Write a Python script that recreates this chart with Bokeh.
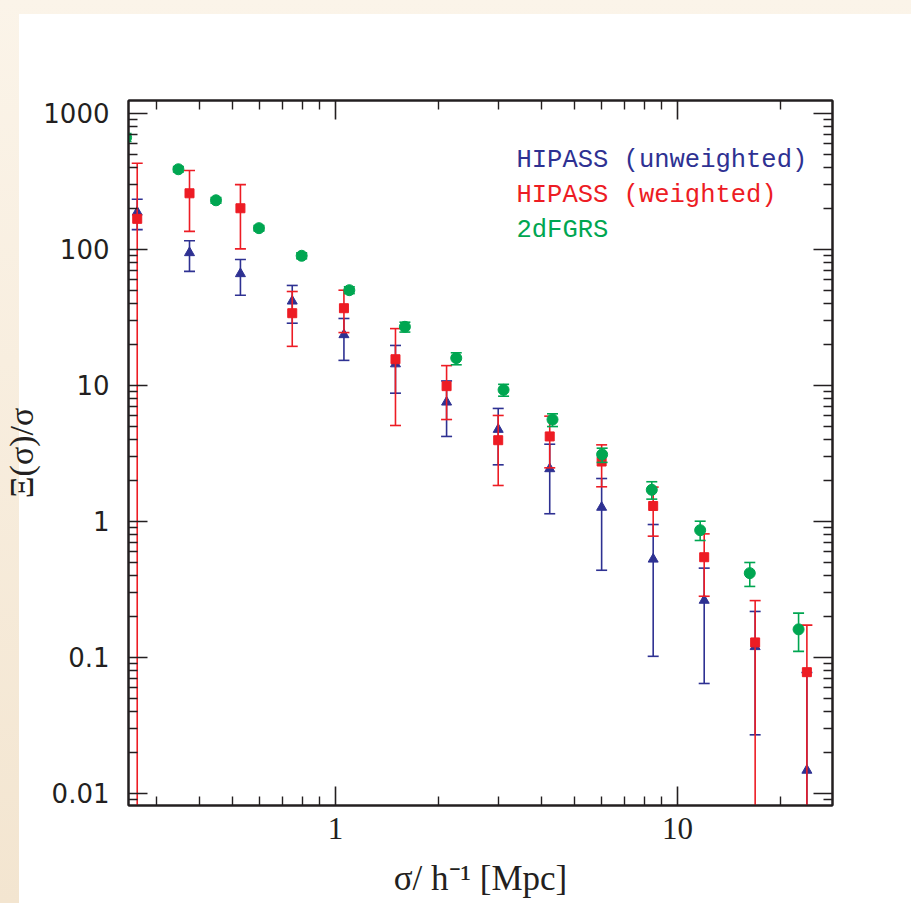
from bokeh.plotting import figure
from bokeh.models import Range1d, LogAxis, FixedTicker, Label, ColumnDataSource, InlineStyleSheet
from bokeh.embed import file_html
from bokeh.resources import INLINE

# ---------------- data ----------------
sig_hipass = [0.263, 0.374, 0.527, 0.747, 1.058, 1.497, 2.112, 2.99, 4.23, 6.0, 8.49, 11.97, 16.87, 23.9]

xi_unw = [188, 94.6, 66.3, 41.7, 23.6, 14.4, 7.54, 4.75, 2.44, 1.27, 0.528, 0.263, 0.12, 0.0148]
xi_unw_hi = [234, 116, 84.4, 54.4, 31.1, 19.7, 10.8, 6.78, 3.70, 2.07, 0.95, 0.454, 0.218, 0.0776]
xi_unw_lo = [140, 69, 46.1, 28.7, 15.3, 8.78, 4.22, 2.61, 1.14, 0.438, 0.102, 0.0644, 0.027, 0.001]

xi_w = [168, 259, 201, 34.0, 37.0, 15.6, 9.89, 3.96, 4.22, 2.76, 1.30, 0.546, 0.129, 0.078]
xi_w_hi = [431, 381, 300, 49.1, 50.2, 26.2, 14.0, 6.02, 5.95, 3.66, 1.79, 0.811, 0.262, 0.173]
xi_w_lo = [0.001, 136, 101, 19.4, 24.5, 5.08, 5.62, 1.84, 2.48, 1.80, 0.78, 0.282, 0.001, 0.001]

sig_2df = [0.244, 0.347, 0.447, 0.597, 0.796, 1.097, 1.595, 2.254, 3.10, 4.31, 6.02, 8.41, 11.65, 16.27, 22.6]
xi_2df = [666, 389, 230, 143.5, 89.9, 50.2, 27.0, 15.9, 9.30, 5.62, 3.11, 1.71, 0.863, 0.417, 0.161]
xi_2df_hi = [713, 407, 241, 150, 94.5, 53.2, 29.2, 17.4, 10.2, 6.19, 3.46, 1.96, 1.005, 0.4995, 0.212]
xi_2df_lo = [622, 371, 219, 137, 85.5, 47.4, 24.7, 14.2, 8.34, 4.99, 2.72, 1.46, 0.725, 0.333, 0.111]

x_tick_values = [1, 10]
x_tick_labels = ["1", "10"]
y_tick_values = [0.01, 0.1, 1, 10, 100, 1000]
y_tick_labels = ["0.01", "0.1", "1", "10", "100", "1000"]
legend_labels = ["HIPASS (unweighted)", "HIPASS (weighted)", "2dFGRS"]

BLUE = "#2E3192"
RED = "#ED1C24"
GREEN = "#00A651"
INK = "#231F20"

# ---------------- figure ----------------
page_css = InlineStyleSheet(css="""
:host {
  background:
    linear-gradient(#ffffff, #ffffff) 19px 14px / calc(100% - 19px) calc(100% - 14px) no-repeat,
    linear-gradient(180deg, #FBF4E9 0%, #F8EEDF 40%, #F3E5D0 100%);
}
""")

p = figure(width=911, height=903, x_axis_type="log", y_axis_type="log",
           x_range=Range1d(0.248, 28.4), y_range=Range1d(0.00816, 1246),
           output_backend="svg", toolbar_location=None,
           min_border_left=128, min_border_right=79, min_border_top=100, min_border_bottom=98,
           stylesheets=[page_css])
p.grid.visible = False
p.background_fill_color = "white"
p.border_fill_color = None
p.outline_line_color = INK
p.outline_line_width = 2

bottom_ax = p.below[0]
left_ax = p.left[0]

x_minor = [m * 10 ** e for e in (-1, 0, 1) for m in range(2, 10)]
y_minor = [m * 10.0 ** e for e in range(-3, 3) for m in range(2, 10)]
xticker = FixedTicker(ticks=x_tick_values, minor_ticks=x_minor)
yticker = FixedTicker(ticks=y_tick_values, minor_ticks=y_minor)

top_ax = LogAxis(ticker=xticker)
right_ax = LogAxis(ticker=yticker)
p.add_layout(top_ax, "above")
p.add_layout(right_ax, "right")
bottom_ax.ticker = xticker
left_ax.ticker = yticker

for ax in [bottom_ax, left_ax, top_ax, right_ax]:
    ax.axis_line_color = INK
    ax.axis_line_width = 2
    ax.major_tick_in = 19
    ax.major_tick_out = 0
    ax.minor_tick_in = 9
    ax.minor_tick_out = 0
    ax.major_tick_line_color = INK
    ax.minor_tick_line_color = INK
    ax.major_tick_line_width = 1.6
    ax.minor_tick_line_width = 1.4

for ax in [top_ax, right_ax]:
    ax.major_label_text_alpha = 0
    ax.major_label_text_font_size = "8px"

bottom_ax.major_label_overrides = dict(zip(x_tick_values, x_tick_labels))
left_ax.major_label_overrides = dict(zip(y_tick_values, y_tick_labels))

bottom_ax.major_label_text_font = "Liberation Serif"
bottom_ax.major_label_text_font_size = "31px"
bottom_ax.major_label_text_color = INK
bottom_ax.major_label_standoff = 12
bottom_ax.axis_label = "σ/ h⁻¹ [Mpc]"
bottom_ax.axis_label_text_font = "Liberation Serif"
bottom_ax.axis_label_text_font_size = "35px"
bottom_ax.axis_label_text_font_style = "normal"
bottom_ax.axis_label_text_color = INK
bottom_ax.axis_label_standoff = 17

left_ax.major_label_text_font = "DejaVu Sans"
left_ax.major_label_text_font_size = "26px"
left_ax.major_label_text_color = INK
left_ax.major_label_standoff = 19
left_ax.axis_label = "Ξ(σ)/σ"
left_ax.axis_label_text_font = "Liberation Serif"
left_ax.axis_label_text_font_size = "34px"
left_ax.axis_label_text_font_style = "normal"
left_ax.axis_label_text_color = INK
left_ax.axis_label_standoff = 0


def draw(x, y, lo, hi, color, marker, size):
    src = ColumnDataSource(dict(x=x, y=y, lo=lo, hi=hi))
    p.segment(x0="x", y0="lo", x1="x", y1="hi", source=src, line_color=color, line_width=1.6)
    p.scatter("x", "lo", marker="dash", size=11, line_color=color, line_width=1.6, source=src)
    p.scatter("x", "hi", marker="dash", size=11, line_color=color, line_width=1.6, source=src)
    p.scatter("x", "y", marker=marker, size=size, fill_color=color, line_color=color, source=src)


draw(sig_hipass, xi_unw, xi_unw_lo, xi_unw_hi, BLUE, "triangle", 10)
draw(sig_hipass, xi_w, xi_w_lo, xi_w_hi, RED, "square", 9)
draw(sig_2df, xi_2df, xi_2df_lo, xi_2df_hi, GREEN, "circle", 11)

for i, (lab, col) in enumerate(zip(legend_labels, [BLUE, RED, GREEN])):
    p.add_layout(Label(x=388, y=645 - i * 35, x_units="screen", y_units="screen",
                       text=lab, text_color=col, text_font="Liberation Mono",
                       text_font_size="25.5px", text_baseline="alphabetic"))

open("out.html", "w").write(file_html(p, INLINE))
